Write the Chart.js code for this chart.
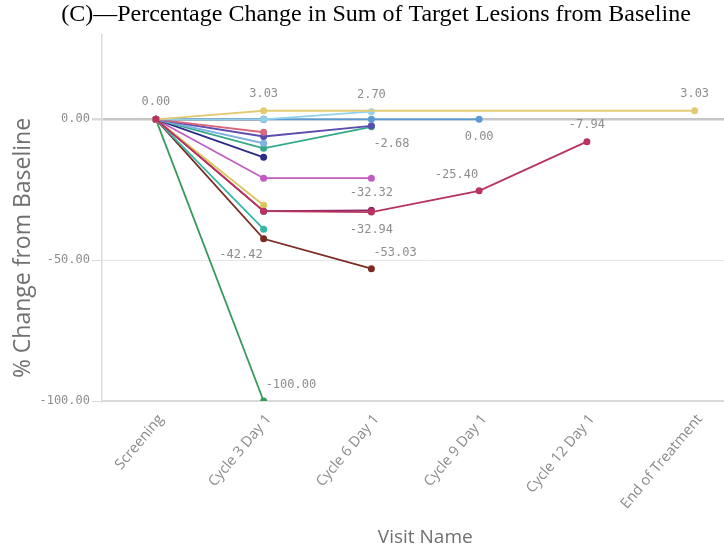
<!DOCTYPE html>
<html>
<head>
<meta charset="utf-8">
<script src="https://cdn.jsdelivr.net/npm/chart.js@4/dist/chart.umd.min.js"></script>
<style>
  html, body { margin: 0; padding: 0; background: #fff; overflow: hidden; }
  #wrap { width: 752px; height: 551px; position: relative; }
</style>
</head>
<body>
<div id="wrap"><canvas id="chart"></canvas></div>
<script>
const visits = ['Screening', 'Cycle 3 Day 1', 'Cycle 6 Day 1', 'Cycle 9 Day 1', 'Cycle 12 Day 1', 'End of Treatment'];
const yTicks = [0, -50, -100];

// one array per patient, % change at each visit (null = no visit)
const ptCrimson = [0, -32.6, -32.94, -25.40, -7.94, null];
const ptYellow  = [0, 3.03, null, null, null, 3.03];
const ptSky     = [0, 0, 2.70, null, null, null];
const ptBlue    = [0, 0, 0, 0.00, null, null];
const ptMaroon  = [0, 0, null, null, null, null];
const ptRed     = [0, -4.6, null, null, null, null];
const ptPurple  = [0, -6.1, -2.3, null, null, null];
const ptLtBlue  = [0, -8.5, null, null, null, null];
const ptTeal    = [0, -10.3, -2.68, null, null, null];
const ptNavy    = [0, -13.5, null, null, null, null];
const ptMagenta = [0, -20.9, -20.9, null, null, null];
const ptOlive   = [0, -30.5, null, null, null, null];
const ptPlum    = [0, -32.6, -32.32, null, null, null];
const ptTeal2   = [0, -39.0, null, null, null, null];
const ptBrown   = [0, -42.42, -53.03, null, null, null];
const ptGreen   = [0, -100.00, null, null, null, null];

// value labels: series, visit index
const labelSeries = [ptCrimson, ptYellow, ptSky, ptTeal, ptPlum, ptCrimson, ptBrown, ptBrown, ptGreen, ptBlue, ptCrimson, ptCrimson, ptYellow];
const labelVisit  = [0, 1, 2, 2, 2, 2, 2, 1, 1, 3, 3, 4, 5];
const labelPlace  = ['up', 'up', 'up', 'downRight', 'up', 'down', 'upRight', 'downLeft', 'upRight', 'down', 'upLeft', 'up', 'up'];

const series = [
  [ptCrimson, '#b8335f'],
  [ptYellow, '#e2cb74'],
  [ptSky, '#8fd0ec'],
  [ptBlue, '#5b9bd5'],
  [ptMaroon, '#6e1c1c'],
  [ptRed, '#d9677e'],
  [ptPurple, '#5a4caf'],
  [ptLtBlue, '#7fb2e2'],
  [ptTeal, '#34a98a'],
  [ptNavy, '#2d2d88'],
  [ptMagenta, '#c25ac2'],
  [ptOlive, '#d9c65c'],
  [ptPlum, '#8e2a68'],
  [ptTeal2, '#36b6a6'],
  [ptBrown, '#7b2b22'],
  [ptGreen, '#3a9a5c'],
];

const datasets = series.map(([data, color]) => ({
  data,
  borderColor: color,
  backgroundColor: color,
  borderWidth: 1.8,
  pointRadius: 3.5,
  pointHoverRadius: 3.5,
  pointBorderWidth: 0,
  spanGaps: true,
  tension: 0,
}));

const valueLabels = {
  id: 'valueLabels',
  afterDatasetsDraw(chart) {
    const ctx = chart.ctx;
    ctx.save();
    ctx.font = '12px "DejaVu Sans Mono", monospace';
    ctx.fillStyle = '#8d8d8d';
    ctx.textBaseline = 'middle';
    labelSeries.forEach((s, i) => {
      const dsIndex = series.findIndex(x => x[0] === s);
      const pt = chart.getDatasetMeta(dsIndex).data[labelVisit[i]];
      const text = s[labelVisit[i]].toFixed(2);
      let x = pt.x, y = pt.y;
      const place = labelPlace[i];
      ctx.textAlign = 'center';
      if (place === 'up') y -= 17;
      else if (place === 'down') y += 18;
      else if (place === 'downRight') { ctx.textAlign = 'left'; x += 2; y += 17; }
      else if (place === 'upRight') { ctx.textAlign = 'left'; x += 2; y -= 16; }
      else if (place === 'downLeft') { ctx.textAlign = 'right'; x -= 1; y += 16; }
      else if (place === 'upLeft') { ctx.textAlign = 'right'; x -= 1; y -= 16; }
      ctx.fillText(text, x, y);
    });
    ctx.restore();
  }
};

// y axis title, drawn a little below the plot centre as in the original
const yTitle = {
  id: 'yTitle',
  afterDraw(chart) {
    const ctx = chart.ctx;
    ctx.save();
    ctx.translate(23, 248);
    ctx.rotate(-Math.PI / 2);
    ctx.font = '23px "Open Sans", sans-serif';
    ctx.fillStyle = '#707070';
    ctx.textAlign = 'center';
    ctx.textBaseline = 'middle';
    ctx.fillText('% Change from Baseline', 0, 0);
    ctx.restore();
  }
};

new Chart(document.getElementById('chart'), {
  type: 'line',
  data: { labels: visits, datasets },
  plugins: [valueLabels, yTitle],
  options: {
    responsive: true,
    maintainAspectRatio: false,
    animation: false,
    layout: { padding: 0 },
    plugins: {
      legend: { display: false },
      tooltip: { enabled: false },
      title: {
        display: true,
        text: '(C)\u2014Percentage Change in Sum of Target Lesions from Baseline',
        color: '#000',
        font: { family: '"Liberation Serif", "Times New Roman", serif', size: 24, weight: 'normal' },
        padding: { top: 0, bottom: 6 },
      },
    },
    scales: {
      x: {
        offset: true,
        grid: { display: false, drawTicks: false },
        border: { display: true, color: '#dadada', width: 2 },
        ticks: {
          color: '#8a8a8a',
          font: { family: '"Open Sans", sans-serif', size: 14.5 },
          minRotation: 50,
          maxRotation: 50,
          padding: 10,
          labelOffset: 5,
          autoSkip: false,
        },
        title: {
          display: true,
          text: 'Visit Name',
          color: '#707070',
          font: { family: '"Open Sans", sans-serif', size: 19 },
          padding: { bottom: 2 },
        },
        afterFit(scale) { scale.height = 150; },
      },
      y: {
        min: -100,
        max: 30,
        afterBuildTicks(scale) { scale.ticks = yTicks.map(v => ({ value: v })); },
        grid: {
          color: c => (c.tick && c.tick.value === 0 ? '#c6c6c6' : '#e6e6e6'),
          lineWidth: c => (c.tick && c.tick.value === 0 ? 2.5 : 1),
          tickLength: 10,
          tickColor: '#dadada',
        },
        border: { display: true, color: '#dcdcdc', width: 1.5 },
        ticks: {
          color: '#8d8d8d',
          font: { family: '"DejaVu Sans Mono", monospace', size: 12 },
          padding: 2,
          callback: v => v.toFixed(2),
        },
        title: { display: false },
        afterFit(scale) { scale.width = 102; },
      },
    },
  },
});
</script>
</body>
</html>
